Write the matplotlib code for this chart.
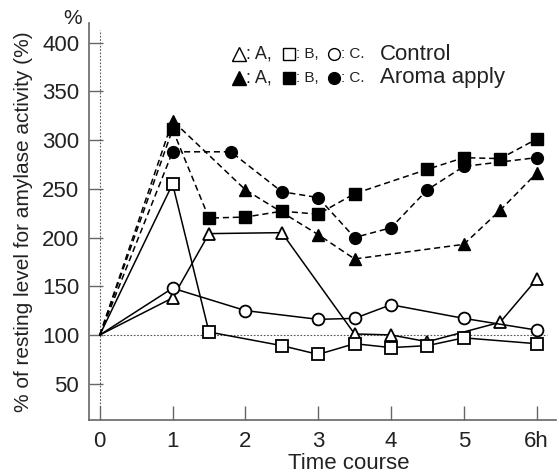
import matplotlib
matplotlib.use("Agg")
import matplotlib.pyplot as plt
from matplotlib.lines import Line2D

plt.rcParams['font.family'] = ['Liberation Sans', 'DejaVu Sans']

# control groups (open markers, solid lines)
ctrl_a_x = [0, 1, 1.5, 2.5, 3.5, 4, 4.5, 5.5, 6]
ctrl_a_y = [100, 138, 204, 205, 101, 100, 93, 113, 157]
ctrl_b_x = [0, 1, 1.5, 2.5, 3, 3.5, 4, 4.5, 5, 6]
ctrl_b_y = [100, 255, 103, 89, 80, 91, 87, 89, 97, 91]
ctrl_c_x = [0, 1, 2, 3, 3.5, 4, 5, 6]
ctrl_c_y = [100, 148, 125, 116, 117, 131, 117, 105]

# aroma apply groups (filled markers, dashed lines)
aroma_a_x = [0, 1, 2, 3, 3.5, 5, 5.5, 6]
aroma_a_y = [100, 320, 249, 203, 178, 193, 228, 266]
aroma_b_x = [0, 1, 1.5, 2, 2.5, 3, 3.5, 4.5, 5, 5.5, 6]
aroma_b_y = [100, 311, 220, 221, 227, 224, 245, 270, 282, 281, 301]
aroma_c_x = [0, 1, 1.8, 2.5, 3, 3.5, 4, 4.5, 5, 6]
aroma_c_y = [100, 288, 288, 247, 241, 200, 210, 249, 273, 282]

xticks = [0, 1, 2, 3, 4, 5, 6]
xticklabels = ['0', '1', '2', '3', '4', '5', '6h']
yticks = [50, 100, 150, 200, 250, 300, 350, 400]

fig = plt.figure(figsize=(5.59, 4.74), dpi=100)
ax = fig.add_axes([0.159, 0.114, 0.836, 0.837])

# reference lines
ax.vlines(0, 26, 413, colors='#555555', linestyles=(0, (1.5, 1.5)), lw=0.8)
ax.hlines(100, 0, 6.15, colors='#555555', linestyles=(0, (1.5, 1.5)), lw=0.8)

ms = 8.5
dash = (0, (4, 2.5))
skip0 = slice(1, None)  # no marker at the baseline point
ax.plot(ctrl_a_x, ctrl_a_y, '-^', color='black', mfc='white', mec='black', ms=ms, lw=1.1, mew=1.3, markevery=skip0)
ax.plot(ctrl_b_x, ctrl_b_y, '-s', color='black', mfc='white', mec='black', ms=ms - 0.5, lw=1.1, mew=1.3, markevery=skip0)
ax.plot(ctrl_c_x, ctrl_c_y, '-o', color='black', mfc='white', mec='black', ms=ms, lw=1.1, mew=1.3, markevery=skip0)
ax.plot(aroma_a_x, aroma_a_y, '^', ls=dash, color='black', ms=ms + 0.5, lw=1.1, markevery=skip0)
ax.plot(aroma_b_x, aroma_b_y, 's', ls=dash, color='black', ms=ms - 0.5, lw=1.1, markevery=skip0)
ax.plot(aroma_c_x, aroma_c_y, 'o', ls=dash, color='black', ms=ms, lw=1.1, markevery=skip0)

ax.set_xlim(-0.15, 6.27)
ax.set_ylim(12.7, 420)
ax.set_xticks(xticks)
ax.set_xticklabels(xticklabels)
ax.set_yticks(yticks)
ax.tick_params(direction='in', length=10, width=1, colors='#666666', labelcolor='#222222',
               labelsize=16)
ax.tick_params(axis='x', pad=8)
ax.tick_params(axis='y', pad=7)
for s in ['top', 'right']:
    ax.spines[s].set_visible(False)
for s in ['left', 'bottom']:
    ax.spines[s].set_color('#666666')
    ax.spines[s].set_linewidth(1.2)

ax.set_ylabel('% of resting level for amylase activity (%)', fontsize=15, color='#222222')
ax.yaxis.set_label_coords(-0.12, 0.5)
ax.set_xlabel('Time course', fontsize=16, color='#222222')
ax.xaxis.set_label_coords(0.557, -0.083)

fig.text(73 / 559, 1 - 18 / 474, '%', fontsize=15, ha='center', va='center', color='#222222')

# legend drawn as markers + text
W, H = 559, 474


def ftxt(x, y, s, size):
    fig.text(x / W, 1 - y / H, s, fontsize=size, ha='left', va='center', color='#222222')


def fmark(x, y, m, filled):
    fig.add_artist(Line2D([x / W], [1 - y / H], marker=m, ls='none', ms=9.5 if m == '^' else 8.5,
                          mfc='black' if filled else 'white', mec='black', mew=1.0))


for y, filled, label in [(54, False, 'Control'), (78, True, 'Aroma apply')]:
    fmark(239, y, '^', filled)
    ftxt(246, y, ': A,', 13)
    fmark(289, y, 's', filled)
    ftxt(296, y, ': B,', 11)
    fmark(334, y, 'o', filled)
    ftxt(341, y, ': C.', 11)
    ftxt(380, y, label, 16)

fig.savefig('out.png', dpi=100)
